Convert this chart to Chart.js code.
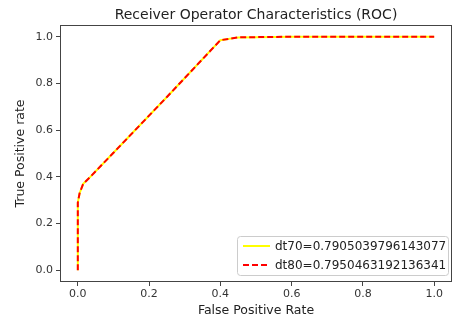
<!DOCTYPE html>
<html>
<head>
<meta charset="utf-8">
<script src="https://cdn.jsdelivr.net/npm/chart.js@4"></script>
<style>
  html, body { margin: 0; padding: 0; background: #fff; }
  #wrap { width: 452px; height: 321px; }
</style>
</head>
<body>
<div id="wrap"><canvas id="roc-chart"></canvas></div>
<script>
// ROC curve data
const fpr70 = [0.0, 0.0, 0.005, 0.015, 0.035, 0.10, 0.25, 0.40, 0.45, 0.60, 1.0];
const tpr70 = [0.0, 0.29, 0.33, 0.37, 0.40, 0.503, 0.742, 0.985, 0.997, 1.0, 1.0];
const fpr80 = [0.0, 0.0, 0.005, 0.015, 0.035, 0.10, 0.25, 0.40, 0.45, 0.60, 1.0];
const tpr80 = [0.0, 0.29, 0.33, 0.37, 0.40, 0.503, 0.742, 0.985, 0.997, 1.0, 1.0];
const labels = ["dt70=0.7905039796143077", "dt80=0.7950463192136341"];
const tickValues = [0.0, 0.2, 0.4, 0.6, 0.8, 1.0];

const FONT = "'DejaVu Sans', sans-serif";

function toPoints(xs, ys) {
  return xs.map((x, i) => ({ x: x, y: ys[i] }));
}

// frame, title and legend box like matplotlib
const framePlugin = {
  id: "frame",
  afterDraw(chart) {
    const ctx = chart.ctx;
    const a = chart.chartArea;
    ctx.save();
    ctx.strokeStyle = "#444";
    ctx.lineWidth = 1;
    ctx.strokeRect(a.left + 0.5, a.top + 0.5, a.right - a.left - 1, a.bottom - a.top - 1);

    // title
    ctx.fillStyle = "#222";
    ctx.font = "14px " + FONT;
    ctx.textAlign = "center";
    ctx.textBaseline = "alphabetic";
    ctx.fillText("Receiver Operator Characteristics (ROC)", (a.left + a.right) / 2, a.top - 6);

    // legend
    const bx = 237, by = 236, bw = 211, bh = 39;
    ctx.fillStyle = "rgba(255,255,255,0.85)";
    ctx.strokeStyle = "#ccc";
    ctx.beginPath();
    ctx.roundRect(bx + 0.5, by + 0.5, bw, bh, 3);
    ctx.fill();
    ctx.stroke();
    ctx.font = "12px " + FONT;
    ctx.textAlign = "left";
    ctx.textBaseline = "middle";
    chart.data.datasets.forEach((ds, i) => {
      const yy = by + 10 + i * 19;
      ctx.strokeStyle = ds.borderColor;
      ctx.lineWidth = 2;
      ctx.setLineDash(ds.borderDash || []);
      ctx.beginPath();
      ctx.moveTo(bx + 6, yy);
      ctx.lineTo(bx + 33, yy);
      ctx.stroke();
      ctx.setLineDash([]);
      ctx.fillStyle = "#222";
      ctx.fillText(ds.label, bx + 38, yy + 1);
    });
    ctx.restore();
  }
};

const rocChart = document.getElementById("roc-chart");
const rocChartContext = rocChart.getContext("2d");

new Chart(rocChartContext, {
  type: "scatter",
  data: {
    datasets: [
      {
        label: labels[0],
        data: toPoints(fpr70, tpr70),
        showLine: true,
        borderColor: "#ffff00",
        borderWidth: 2,
        pointRadius: 0,
        tension: 0,
        order: 1,
      },
      {
        label: labels[1],
        data: toPoints(fpr80, tpr80),
        showLine: true,
        borderColor: "#ff0000",
        borderWidth: 2,
        borderDash: [6, 3],
        pointRadius: 0,
        tension: 0,
        order: 0,
      },
    ],
  },
  options: {
    responsive: true,
    maintainAspectRatio: false,
    animation: false,
    layout: { padding: { top: 25, right: 0, left: 0, bottom: 0 } },
    plugins: {
      legend: { display: false },
      tooltip: { enabled: false },
    },
    scales: {
      x: {
        type: "linear",
        min: -0.05,
        max: 1.05,
        afterBuildTicks: (s) => { s.ticks = tickValues.map((v) => ({ value: v })); },
        afterFit: (s) => { s.height = 39; },
        ticks: {
          callback: (v) => v.toFixed(1),
          font: { family: FONT, size: 11 },
          color: "#333",
          padding: 2,
          maxRotation: 0,
        },
        grid: { drawOnChartArea: false, drawTicks: true, tickLength: 4, color: "#444" },
        border: { display: false },
        title: {
          display: true,
          text: "False Positive Rate",
          font: { family: FONT, size: 12.5 },
          color: "#222",
          padding: { top: 0, bottom: 3 },
        },
      },
      y: {
        type: "linear",
        min: -0.05,
        max: 1.05,
        afterBuildTicks: (s) => { s.ticks = tickValues.map((v) => ({ value: v })); },
        afterFit: (s) => { s.width = 60; },
        ticks: {
          callback: (v) => v.toFixed(1),
          font: { family: FONT, size: 11 },
          color: "#333",
          padding: 3,
        },
        grid: { drawOnChartArea: false, drawTicks: true, tickLength: 4, color: "#444" },
        border: { display: false },
        title: {
          display: true,
          text: "True Positive rate",
          font: { family: FONT, size: 12.5 },
          color: "#222",
          padding: { top: 13, bottom: 0 },
        },
      },
    },
  },
  plugins: [framePlugin],
});
</script>
</body>
</html>
